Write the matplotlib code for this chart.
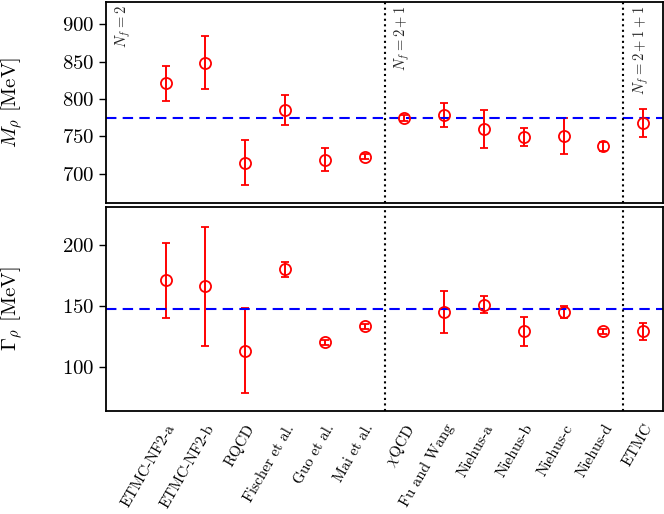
import matplotlib
matplotlib.use("Agg")
import matplotlib.pyplot as plt
import numpy as np

plt.rcParams['mathtext.fontset'] = 'cm'
plt.rcParams['font.family'] = 'serif'
plt.rcParams['font.serif'] = ['cmr10']
plt.rcParams['axes.formatter.use_mathtext'] = True

labels = ["ETMC-NF2-a", "ETMC-NF2-b", "RQCD", "Fischer et al.", "Guo et al.",
          "Mai et al.", r"$\chi$QCD", "Fu and Wang", "Niehus-a", "Niehus-b",
          "Niehus-c", "Niehus-d", "ETMC"]

mass = [821, 849, 715, 785, 719, 723, 775, 779, 760, 749, 751, 737, 768]
mass_err = [24, 35, 30, 20, 15, 3, 4, 16, 25, 12, 24, 6, 19]

width = [171, 166, 113, 180, 120, 133, np.nan, 145, 151, 129, 145, 129, 129]
width_err = [31, 49, 35, 6, 2, 2, np.nan, 17, 7, 12, 5, 2, 7]

mass_phys = 775.3
width_phys = 147.5

separators = [5.5, 11.5]
nf_labels = [r"$N_f=2$", r"$N_f=2+1$", r"$N_f=2+1+1$"]
nf_pos = [-1.3, 5.7, 11.7]

fig = plt.figure(figsize=(6.64, 5.14), dpi=100)
ax1 = fig.add_axes([106/664, 1-203/514, (663-106)/664, 201/514])
ax2 = fig.add_axes([106/664, 1-410.7/514, (663-106)/664, 203.7/514])

x = np.arange(len(labels))

for ax, vals, errs, phys in [(ax1, mass, mass_err, mass_phys),
                              (ax2, width, width_err, width_phys)]:
    ax.errorbar(x, vals, yerr=errs, fmt='o', color='red', mfc='none',
                mec='red', ms=8, mew=1.3, elinewidth=1.4, capsize=3, capthick=1.4)
    ax.axhline(phys, color='blue', ls=(0, (5, 3)), lw=1.5)
    for s in separators:
        ax.axvline(s, color='black', ls=':', lw=1.5)
    ax.set_xlim(-1.5, 12.5)
    for sp in ax.spines.values():
        sp.set_linewidth(1.3)
    ax.tick_params(axis='y', labelsize=15, length=5, width=1)
    ax.tick_params(axis='x', length=0)

ax1.set_ylim(661, 930)
ax1.set_yticks([700, 750, 800, 850, 900])
ax1.set_xticks(x)
ax1.set_xticklabels([])
ax1.set_ylabel(r"$M_\rho$ [MeV]", fontsize=15)

ax2.set_ylim(63.7, 231.3)
ax2.set_yticks([100, 150, 200])
ax2.set_xticks(x)
ax2.set_xticklabels(labels, rotation=60, ha='right', rotation_mode='anchor', fontsize=11)
ax2.tick_params(axis='x', pad=8)
ax2.set_ylabel(r"$\Gamma_\rho$ [MeV]", fontsize=15)

ax1.yaxis.set_label_coords(-0.145, 0.5)
ax2.yaxis.set_label_coords(-0.145, 0.5)

for p, t in zip(nf_pos, nf_labels):
    ax1.text(p, 926, t, rotation=90, va='top', ha='left', fontsize=10.5, color='0.15')

fig.savefig("out.png", dpi=100)
